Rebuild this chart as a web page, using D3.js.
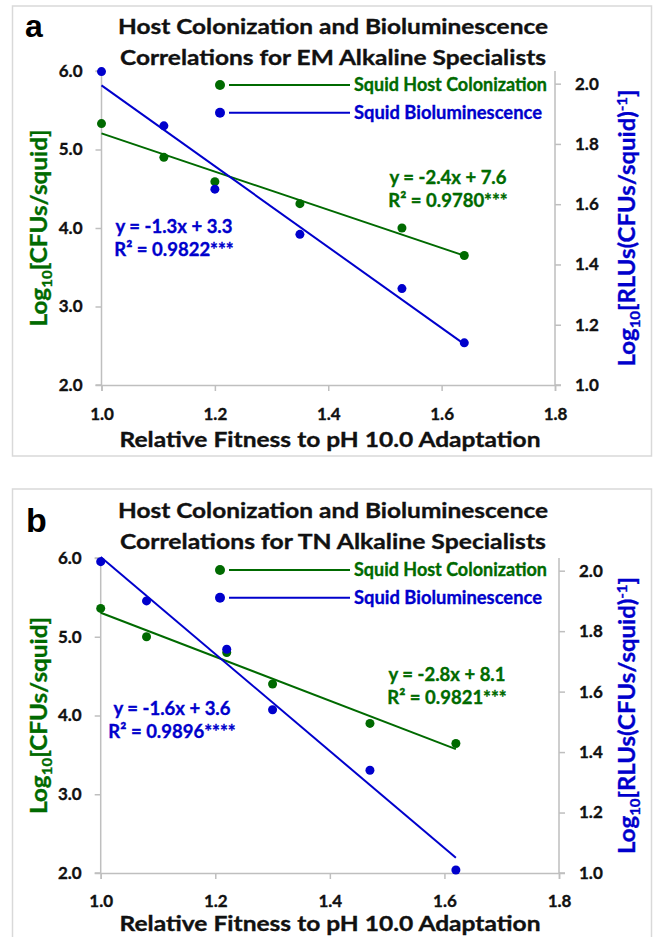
<!DOCTYPE html>
<html><head><meta charset="utf-8">
<script src="https://cdn.jsdelivr.net/npm/d3@7"></script>
<style>body{margin:0;background:#fff;overflow:hidden}</style>
</head><body>
<svg id="c" width="654" height="937"></svg>
<script>
// ---------- data ----------
const xTicks = [1.0, 1.2, 1.4, 1.6, 1.8];
const leftTicks = [2.0, 3.0, 4.0, 5.0, 6.0];
const rightTicks = [1.0, 1.2, 1.4, 1.6, 1.8, 2.0];
const seriesNames = ["Squid Host Colonization", "Squid Bioluminescence"];

const fitnessEM = [1.00, 1.11, 1.20, 1.35, 1.53, 1.64];
const colonEM   = [5.33, 4.90, 4.59, 4.31, 4.00, 3.65];
const lumEM     = [2.04, 1.86, 1.65, 1.50, 1.32, 1.14];

const fitnessTN = [1.00, 1.08, 1.22, 1.30, 1.47, 1.62];
const colonTN   = [5.36, 5.00, 4.80, 4.40, 3.90, 3.645];
const lumTN     = [2.03, 1.90, 1.74, 1.54, 1.34, 1.01];

const titleEM = ["Host Colonization and Bioluminescence", "Correlations for EM Alkaline Specialists"];
const titleTN = ["Host Colonization and Bioluminescence", "Correlations for TN Alkaline Specialists"];
const colonEqEM = ["y = -2.4x + 7.6", "R² = 0.9780***"];
const lumEqEM   = ["y = -1.3x + 3.3", "R² = 0.9822***"];
const colonEqTN = ["y = -2.8x + 8.1", "R² = 0.9821***"];
const lumEqTN   = ["y = -1.6x + 3.6", "R² = 0.9896****"];
const xTitle = "Relative Fitness to pH 10.0 Adaptation";

// ---------- style ----------
const GREEN = "#006a00", BLUE = "#0000cc", AXIS = "#bfbfbf", BORDER = "#d9d9d9";
const FONT = "Lato, 'Open Sans', sans-serif";
const HEAVY = 0.35;

const svg = d3.select("#c");

function regression(xs, ys) {
  const n = xs.length, mx = d3.mean(xs), my = d3.mean(ys);
  let sxy = 0, sxx = 0;
  for (let i = 0; i < n; i++) { sxy += (xs[i]-mx)*(ys[i]-my); sxx += (xs[i]-mx)**2; }
  const m = sxy / sxx;
  return [m, my - m*mx];
}
function heavy(sel, col) { return sel.attr("stroke", col).attr("stroke-width", HEAVY); }

const panels = [
  {letter:"a", lSize:32, lX:25, lY:37, boxY:6, x0:101.5, x1:555, yB:385, yT:71,
   titleY:[34,65], legY:[85,112.7], gEq:[448,184], bEq:[174,233], tickY:420, titleXY:447,
   fit:fitnessEM, colon:colonEM, lum:lumEM, title:titleEM, gTxt:colonEqEM, bTxt:lumEqEM},
  {letter:"b", lSize:34, lX:26, lY:532, boxY:489, x0:100.7, x1:559, yB:873, yT:558,
   titleY:[518,549], legY:[570,597.7], gEq:[447,681], bEq:[172,715], tickY:907, titleXY:931,
   fit:fitnessTN, colon:colonTN, lum:lumTN, title:titleTN, gTxt:colonEqTN, bTxt:lumEqTN}
];

panels.forEach(p => {
  const g = svg.append("g");
  g.append("rect").attr("x", 12.5).attr("y", p.boxY).attr("width", 639).attr("height", 450)
    .attr("fill", "none").attr("stroke", BORDER).attr("stroke-width", 1.5);

  const x = d3.scaleLinear().domain([1.0, 1.8]).range([p.x0, p.x1]);
  const yL = d3.scaleLinear().domain([2.0, 6.0]).range([p.yB, p.yT]);
  const yR = d3.scaleLinear().domain([1.0, 2.042]).range([p.yB, p.yT]);

  const ax = g.append("g").attr("transform", `translate(0,${p.yB})`)
    .call(d3.axisBottom(x).tickValues(xTicks).tickFormat(d3.format(".1f")).tickSize(6).tickPadding(12));
  const al = g.append("g").attr("transform", `translate(${p.x0},0)`)
    .call(d3.axisLeft(yL).tickValues(leftTicks).tickFormat(d3.format(".1f")).tickSize(6).tickPadding(13));
  const ar = g.append("g").attr("transform", `translate(${p.x1},0)`)
    .call(d3.axisRight(yR).tickValues(rightTicks).tickFormat(d3.format(".1f")).tickSize(6).tickPadding(14));
  [ax, al, ar].forEach(a => {
    a.select(".domain").attr("stroke", AXIS).attr("stroke-width", 1.5);
    a.selectAll(".tick line").attr("stroke", AXIS).attr("stroke-width", 1.5);
    heavy(a.selectAll(".tick text").attr("fill", "#111").attr("font-family", FONT)
      .attr("font-weight", "bold").attr("font-size", 17), "#111");
  });
  ar.select(".domain").attr("d", `M6,${p.yB}H0V${p.yT}`);
  al.select(".domain").attr("d", `M-6,${p.yT}H0V${p.yB}H-6`);
  ax.selectAll(".tick text").attr("y", p.tickY - p.yB).attr("dy", 0);

  // trend lines
  const [gm, gb] = regression(p.fit, p.colon);
  const [bm, bb] = regression(p.fit, p.lum);
  const xs = d3.extent(p.fit);
  g.append("line").attr("x1", x(xs[0])).attr("x2", x(xs[1]))
    .attr("y1", yL(gm*xs[0]+gb)).attr("y2", yL(gm*xs[1]+gb))
    .attr("stroke", GREEN).attr("stroke-width", 2);
  g.append("line").attr("x1", x(xs[0])).attr("x2", x(xs[1]))
    .attr("y1", yR(bm*xs[0]+bb)).attr("y2", yR(bm*xs[1]+bb))
    .attr("stroke", BLUE).attr("stroke-width", 2);

  // points
  g.selectAll(".gp").data(p.fit.map((f,i)=>[f,p.colon[i]])).enter().append("circle")
    .attr("cx", d=>x(d[0])).attr("cy", d=>yL(d[1])).attr("r", 4.5).attr("fill", GREEN);
  g.selectAll(".bp").data(p.fit.map((f,i)=>[f,p.lum[i]])).enter().append("circle")
    .attr("cx", d=>x(d[0])).attr("cy", d=>yR(d[1])).attr("r", 4.5).attr("fill", BLUE);

  // letter
  g.append("text").attr("x", p.lX).attr("y", p.lY).text(p.letter)
    .attr("font-family", "'Liberation Sans', Arial, sans-serif").attr("font-weight", "bold")
    .attr("font-size", p.lSize).attr("fill", "#000");

  // title
  p.title.forEach((t, i) => {
    heavy(g.append("text").attr("x", 333).attr("y", p.titleY[i]).attr("text-anchor", "middle")
      .attr("font-family", FONT).attr("font-weight", "bold").attr("font-size", 21.5)
      .attr("textLength", i === 0 ? 430 : 426).attr("lengthAdjust", "spacingAndGlyphs")
      .attr("fill", "#111").text(t), "#111");
  });

  // legend
  const legCols = [GREEN, BLUE];
  const legLen = [193, 188];
  seriesNames.forEach((n, i) => {
    const yy = p.legY[i];
    g.append("circle").attr("cx", 220).attr("cy", yy).attr("r", 5).attr("fill", legCols[i]);
    g.append("line").attr("x1", 229).attr("x2", 350).attr("y1", yy).attr("y2", yy)
      .attr("stroke", legCols[i]).attr("stroke-width", 2);
    heavy(g.append("text").attr("x", 354).attr("y", yy + 6).attr("font-family", FONT)
      .attr("font-weight", "bold").attr("font-size", 18.5).attr("fill", legCols[i])
      .attr("textLength", legLen[i]).attr("lengthAdjust", "spacingAndGlyphs").text(n), legCols[i]);
  });

  // equations
  [[p.gTxt, p.gEq, GREEN], [p.bTxt, p.bEq, BLUE]].forEach(([lines, pos, col]) => {
    lines.forEach((t, i) => {
      heavy(g.append("text").attr("x", pos[0]).attr("y", pos[1] + i*23).attr("text-anchor", "middle")
        .attr("font-family", FONT).attr("font-weight", "bold").attr("font-size", 18.5)
        .attr("fill", col).text(t), col);
    });
  });

  // x title
  heavy(g.append("text").attr("x", 330).attr("y", p.titleXY).attr("text-anchor", "middle")
    .attr("font-family", FONT).attr("font-weight", "bold").attr("font-size", 21.5)
    .attr("textLength", 421).attr("lengthAdjust", "spacingAndGlyphs")
    .attr("fill", "#111").text(xTitle), "#111");

  const midY = (p.yB + p.yT) / 2;
  const lt = heavy(g.append("text").attr("transform", `translate(47,${midY}) rotate(-90)`)
    .attr("text-anchor", "middle").attr("font-family", FONT).attr("font-weight", "bold")
    .attr("font-size", 22.5).attr("fill", GREEN)
    .attr("textLength", 197).attr("lengthAdjust", "spacingAndGlyphs"), GREEN);
  lt.append("tspan").text("Log");
  lt.append("tspan").attr("font-size", 14).attr("dy", 5).text("10");
  lt.append("tspan").attr("dy", -5).text("[CFUs/squid]");

  const rt = heavy(g.append("text").attr("transform", `translate(635,${midY}) rotate(-90)`)
    .attr("text-anchor", "middle").attr("font-family", FONT).attr("font-weight", "bold")
    .attr("font-size", 22.5).attr("fill", BLUE)
    .attr("textLength", 277).attr("lengthAdjust", "spacingAndGlyphs"), BLUE);
  rt.append("tspan").text("Log");
  rt.append("tspan").attr("font-size", 14).attr("dy", 5).text("10");
  rt.append("tspan").attr("dy", -5).text("[RLUs(CFUs/squid)");
  rt.append("tspan").attr("font-size", 14).attr("dy", -8).text("-1");
  rt.append("tspan").attr("dy", 8).text("]");
});
</script>
</body></html>
